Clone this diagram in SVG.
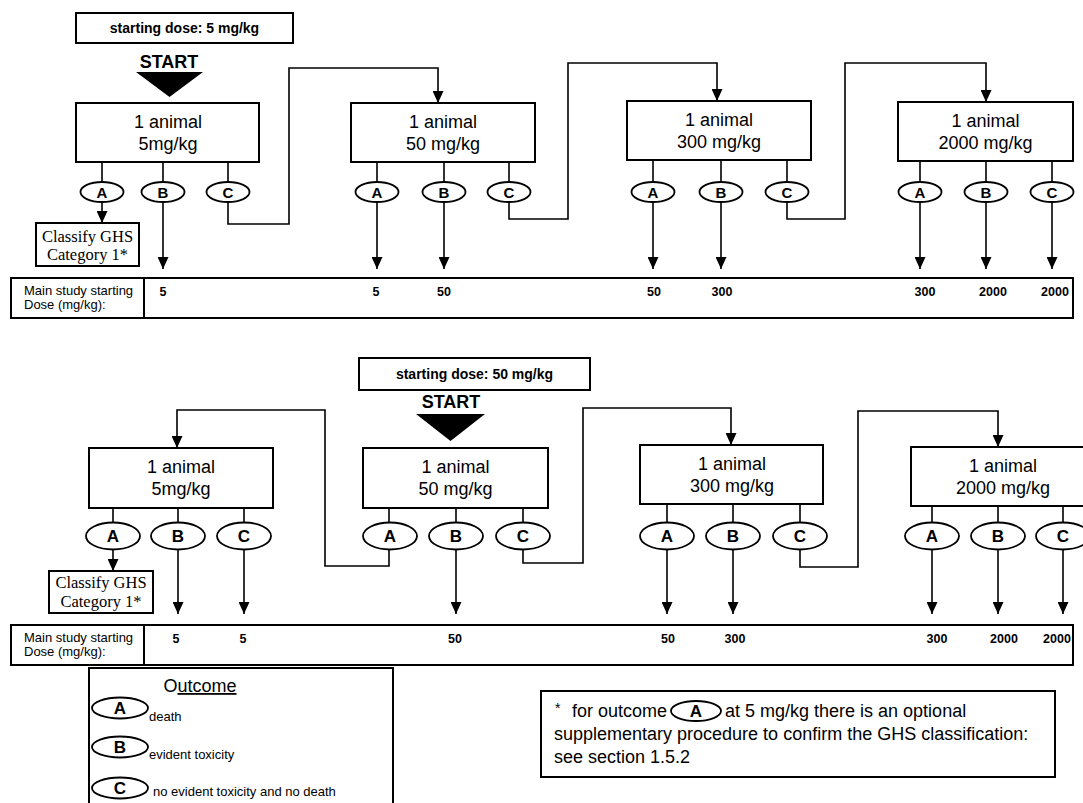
<svg xmlns="http://www.w3.org/2000/svg" width="1083" height="803" viewBox="0 0 1083 803">
<defs>
<style>
.box{fill:#fff;stroke:#000;stroke-width:2}
.ell{fill:#fff;stroke:#000;stroke-width:1.8}
.ln{fill:none;stroke:#000;stroke-width:1.6}
.arr{marker-end:url(#ah)}
.t{font-family:"Liberation Sans",Arial,sans-serif;fill:#000}
.nt{font-size:18px;text-anchor:middle}
.hd{font-size:14px;font-weight:bold;text-anchor:middle}
.st{font-size:18px;font-weight:bold;text-anchor:middle}
.lt{font-size:15px;font-weight:bold;text-anchor:middle}
.lt2{font-size:17px;font-weight:bold;text-anchor:middle}
.val{font-size:12.5px;font-weight:bold;text-anchor:middle}
.lab{font-size:13px}
.ser{font-family:"Liberation Serif","Times New Roman",serif;font-size:16.5px;text-anchor:middle;fill:#000}
.leg{font-size:13px}
.fn{font-size:18px}
</style>
<marker id="ah" viewBox="0 0 12 11" markerWidth="12" markerHeight="11" refX="12" refY="5.5" orient="auto" markerUnits="userSpaceOnUse"><path d="M0,0 L12,5.5 L0,11 z" fill="#000"/></marker>
</defs>
<rect width="1083" height="803" fill="#fff"/>

<!-- ===== connectors ===== -->
<g id="connectors">
  <!-- top: box1 -->
  <path class="ln" d="M102,162V182M163,162V182M228,162V182"/>
  <path class="ln arr" d="M102,202V223"/>
  <path class="ln arr" d="M163,202V269"/>
  <path class="ln arr" d="M228,202V224H289V68H438V103"/>
  <!-- top: box2 -->
  <path class="ln" d="M377,162V182M444,162V182M509,162V182"/>
  <path class="ln arr" d="M377,202V269"/>
  <path class="ln arr" d="M444,202V269"/>
  <path class="ln arr" d="M509,202V219H568V63H717V101"/>
  <!-- top: box3 -->
  <path class="ln" d="M653,160V182M721,160V182M787,160V182"/>
  <path class="ln arr" d="M653,202V269"/>
  <path class="ln arr" d="M721,202V269"/>
  <path class="ln arr" d="M787,202V219H845V63H986V102"/>
  <!-- top: box4 -->
  <path class="ln" d="M920,161V182M986,161V182M1052,161V182"/>
  <path class="ln arr" d="M920,202V269"/>
  <path class="ln arr" d="M986,202V269"/>
  <path class="ln arr" d="M1052,202V269"/>

  <!-- bottom: box1 -->
  <path class="ln" d="M113,508V522.5M178,508V522.5M244,508V522.5"/>
  <path class="ln arr" d="M113,549.5V571"/>
  <path class="ln arr" d="M178,549.5V614"/>
  <path class="ln arr" d="M244,549.5V614"/>
  <!-- bottom: box2 -->
  <path class="ln" d="M389,508V522.5M456,508V522.5M523,508V522.5"/>
  <path class="ln arr" d="M389,549.5V566H325V410H177V448"/>
  <path class="ln arr" d="M456,549.5V614"/>
  <path class="ln arr" d="M523,549.5V563H583V408H731V445"/>
  <!-- bottom: box3 -->
  <path class="ln" d="M667,504V522.5M733,504V522.5M800,504V522.5"/>
  <path class="ln arr" d="M667,549.5V614"/>
  <path class="ln arr" d="M733,549.5V614"/>
  <path class="ln arr" d="M800,549.5V567H858V411H998V447"/>
  <!-- bottom: box4 -->
  <path class="ln" d="M932,506V522.5M998,506V522.5M1063,506V522.5"/>
  <path class="ln arr" d="M932,549.5V614"/>
  <path class="ln arr" d="M998,549.5V614"/>
  <path class="ln arr" d="M1063,549.5V614"/>
</g>

<!-- ===== TOP SECTION ===== -->
<g id="top-dose-label">
  <rect class="box" x="76" y="13" width="217" height="30"/>
  <text class="t hd" x="184.5" y="33">starting dose: 5 mg/kg</text>
</g>
<g id="top-start">
  <text class="t st" x="169" y="68">START</text>
  <polygon points="136,72 203,72 169.5,97" fill="#000"/>
</g>
<g id="top-n1">
  <rect class="box" x="76" y="103" width="183" height="59"/>
  <text class="t nt" x="168" y="128">1 animal</text>
  <text class="t nt" x="168" y="150">5mg/kg</text>
</g>
<g id="top-n2">
  <rect class="box" x="351" y="103" width="184" height="59"/>
  <text class="t nt" x="443" y="128">1 animal</text>
  <text class="t nt" x="443" y="150">50 mg/kg</text>
</g>
<g id="top-n3">
  <rect class="box" x="627" y="101" width="184" height="59"/>
  <text class="t nt" x="719" y="126">1 animal</text>
  <text class="t nt" x="719" y="148">300 mg/kg</text>
</g>
<g id="top-n4">
  <rect class="box" x="898" y="102" width="175" height="59"/>
  <text class="t nt" x="985.5" y="127">1 animal</text>
  <text class="t nt" x="985.5" y="149">2000 mg/kg</text>
</g>
<g id="top-outcomes">
  <g id="top-n1-A"><ellipse class="ell" cx="102" cy="192" rx="21.5" ry="10"/><text class="t lt" x="102" y="197.5">A</text></g>
  <g id="top-n1-B"><ellipse class="ell" cx="163" cy="192" rx="21.5" ry="10"/><text class="t lt" x="163" y="197.5">B</text></g>
  <g id="top-n1-C"><ellipse class="ell" cx="228" cy="192" rx="21.5" ry="10"/><text class="t lt" x="228" y="197.5">C</text></g>
  <g id="top-n2-A"><ellipse class="ell" cx="377" cy="192" rx="21.5" ry="10"/><text class="t lt" x="377" y="197.5">A</text></g>
  <g id="top-n2-B"><ellipse class="ell" cx="444" cy="192" rx="21.5" ry="10"/><text class="t lt" x="444" y="197.5">B</text></g>
  <g id="top-n2-C"><ellipse class="ell" cx="509" cy="192" rx="21.5" ry="10"/><text class="t lt" x="509" y="197.5">C</text></g>
  <g id="top-n3-A"><ellipse class="ell" cx="653" cy="192" rx="21.5" ry="10"/><text class="t lt" x="653" y="197.5">A</text></g>
  <g id="top-n3-B"><ellipse class="ell" cx="721" cy="192" rx="21.5" ry="10"/><text class="t lt" x="721" y="197.5">B</text></g>
  <g id="top-n3-C"><ellipse class="ell" cx="787" cy="192" rx="21.5" ry="10"/><text class="t lt" x="787" y="197.5">C</text></g>
  <g id="top-n4-A"><ellipse class="ell" cx="920" cy="192" rx="21.5" ry="10"/><text class="t lt" x="920" y="197.5">A</text></g>
  <g id="top-n4-B"><ellipse class="ell" cx="986" cy="192" rx="21.5" ry="10"/><text class="t lt" x="986" y="197.5">B</text></g>
  <g id="top-n4-C"><ellipse class="ell" cx="1052" cy="192" rx="21.5" ry="10"/><text class="t lt" x="1052" y="197.5">C</text></g>
</g>
<g id="top-classify">
  <rect class="box" x="36" y="223" width="103" height="43"/>
  <text class="ser" x="87.5" y="242">Classify GHS</text>
  <text class="ser" x="87.5" y="260">Category 1*</text>
</g>
<g id="top-dose-bar">
  <rect class="box" x="11" y="278" width="1062" height="40"/>
  <line class="ln" x1="144" y1="278" x2="144" y2="318" style="stroke-width:2"/>
  <text class="t lab" x="24" y="295">Main study starting</text>
  <text class="t lab" x="24" y="309">Dose (mg/kg):</text>
  <text class="t val" x="163" y="296">5</text>
  <text class="t val" x="376" y="296">5</text>
  <text class="t val" x="444" y="296">50</text>
  <text class="t val" x="654" y="296">50</text>
  <text class="t val" x="722" y="296">300</text>
  <text class="t val" x="925" y="296">300</text>
  <text class="t val" x="993" y="296">2000</text>
  <text class="t val" x="1055" y="296">2000</text>
</g>

<!-- ===== BOTTOM SECTION ===== -->
<g id="bot-dose-label">
  <rect class="box" x="359" y="358" width="231" height="32"/>
  <text class="t hd" x="474.5" y="379">starting dose: 50 mg/kg</text>
</g>
<g id="bot-start">
  <text class="t st" x="451" y="408">START</text>
  <polygon points="416,414 485,414 450.5,441" fill="#000"/>
</g>
<g id="bot-n1">
  <rect class="box" x="89" y="448" width="184" height="60"/>
  <text class="t nt" x="181" y="473">1 animal</text>
  <text class="t nt" x="181" y="495">5mg/kg</text>
</g>
<g id="bot-n2">
  <rect class="box" x="363" y="448" width="185" height="60"/>
  <text class="t nt" x="455.5" y="473">1 animal</text>
  <text class="t nt" x="455.5" y="495">50 mg/kg</text>
</g>
<g id="bot-n3">
  <rect class="box" x="640" y="445" width="183" height="59"/>
  <text class="t nt" x="732" y="470">1 animal</text>
  <text class="t nt" x="732" y="492">300 mg/kg</text>
</g>
<g id="bot-n4">
  <rect class="box" x="911" y="447" width="184" height="59"/>
  <text class="t nt" x="1003" y="472">1 animal</text>
  <text class="t nt" x="1003" y="494">2000 mg/kg</text>
</g>
<g id="bot-outcomes">
  <g id="bot-n1-A"><ellipse class="ell" cx="113" cy="536" rx="27" ry="13.5"/><text class="t lt2" x="113" y="542">A</text></g>
  <g id="bot-n1-B"><ellipse class="ell" cx="178" cy="536" rx="27" ry="13.5"/><text class="t lt2" x="178" y="542">B</text></g>
  <g id="bot-n1-C"><ellipse class="ell" cx="244" cy="536" rx="27" ry="13.5"/><text class="t lt2" x="244" y="542">C</text></g>
  <g id="bot-n2-A"><ellipse class="ell" cx="390" cy="536" rx="27" ry="13.5"/><text class="t lt2" x="390" y="542">A</text></g>
  <g id="bot-n2-B"><ellipse class="ell" cx="456" cy="536" rx="27" ry="13.5"/><text class="t lt2" x="456" y="542">B</text></g>
  <g id="bot-n2-C"><ellipse class="ell" cx="523" cy="536" rx="27" ry="13.5"/><text class="t lt2" x="523" y="542">C</text></g>
  <g id="bot-n3-A"><ellipse class="ell" cx="667" cy="536" rx="27" ry="13.5"/><text class="t lt2" x="667" y="542">A</text></g>
  <g id="bot-n3-B"><ellipse class="ell" cx="733" cy="536" rx="27" ry="13.5"/><text class="t lt2" x="733" y="542">B</text></g>
  <g id="bot-n3-C"><ellipse class="ell" cx="800" cy="536" rx="27" ry="13.5"/><text class="t lt2" x="800" y="542">C</text></g>
  <g id="bot-n4-A"><ellipse class="ell" cx="932" cy="536" rx="27" ry="13.5"/><text class="t lt2" x="932" y="542">A</text></g>
  <g id="bot-n4-B"><ellipse class="ell" cx="998" cy="536" rx="27" ry="13.5"/><text class="t lt2" x="998" y="542">B</text></g>
  <g id="bot-n4-C"><ellipse class="ell" cx="1063" cy="536" rx="27" ry="13.5"/><text class="t lt2" x="1063" y="542">C</text></g>
</g>
<g id="bot-classify">
  <rect class="box" x="49" y="571" width="104" height="42"/>
  <text class="ser" x="101" y="588">Classify GHS</text>
  <text class="ser" x="101" y="607">Category 1*</text>
</g>
<g id="bot-dose-bar">
  <rect class="box" x="11" y="625" width="1062" height="40"/>
  <line class="ln" x1="144" y1="625" x2="144" y2="665" style="stroke-width:2"/>
  <text class="t lab" x="24" y="642">Main study starting</text>
  <text class="t lab" x="24" y="656">Dose (mg/kg):</text>
  <text class="t val" x="176" y="643">5</text>
  <text class="t val" x="243" y="643">5</text>
  <text class="t val" x="455" y="643">50</text>
  <text class="t val" x="668" y="643">50</text>
  <text class="t val" x="735" y="643">300</text>
  <text class="t val" x="937" y="643">300</text>
  <text class="t val" x="1004" y="643">2000</text>
  <text class="t val" x="1057" y="643">2000</text>
</g>

<!-- ===== LEGEND ===== -->
<g id="legend">
  <rect class="box" x="89" y="668" width="304" height="145"/>
  <text class="t" x="200" y="692" style="font-size:18px;text-anchor:middle">O<tspan text-decoration="underline">utcome</tspan></text>
  <ellipse class="ell" cx="120" cy="708" rx="28" ry="10.5"/>
  <text class="t lt2" x="120" y="714">A</text>
  <text class="t leg" x="149" y="721">death</text>
  <ellipse class="ell" cx="120" cy="747" rx="28" ry="10.5"/>
  <text class="t lt2" x="120" y="753">B</text>
  <text class="t leg" x="149" y="759">evident toxicity</text>
  <ellipse class="ell" cx="120" cy="788" rx="28" ry="10.5"/>
  <text class="t lt2" x="120" y="794">C</text>
  <text class="t leg" x="153" y="796">no evident toxicity and no death</text>
</g>

<!-- ===== FOOTNOTE ===== -->
<g id="footnote">
  <rect class="box" x="541" y="691" width="514" height="86"/>
  <text class="t" x="555" y="713" style="font-size:14px">*</text>
  <text class="t fn" x="572" y="717">for outcome</text>
  <ellipse class="ell" cx="696" cy="711" rx="25" ry="10"/>
  <text class="t lt2" x="696" y="717">A</text>
  <text class="t fn" x="725" y="717">at 5 mg/kg there is an optional</text>
  <text class="t fn" x="554" y="740">supplementary procedure to confirm the GHS classification:</text>
  <text class="t fn" x="554" y="763">see section 1.5.2</text>
</g>
</svg>
